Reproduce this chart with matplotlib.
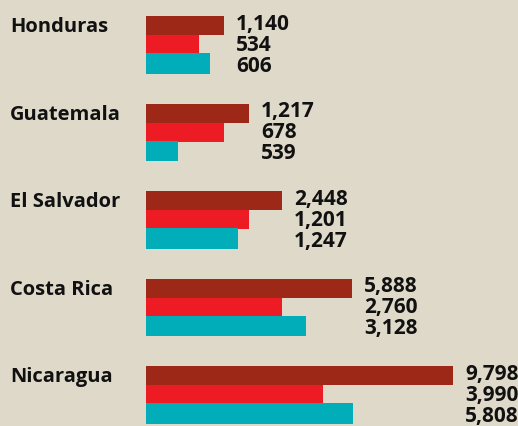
import matplotlib
matplotlib.use("Agg")
import matplotlib.pyplot as plt
from matplotlib.transforms import offset_copy

countries = ["Honduras", "Guatemala", "El Salvador", "Costa Rica", "Nicaragua"]
# printed values (three series per country)
series_a = [1140, 1217, 2448, 5888, 9798]
series_b = [534, 678, 1201, 2760, 3990]
series_c = [606, 539, 1247, 3128, 5808]
# bar lengths as drawn in the picture (same units, scaled so 9,798 matches)
bar_a = [2489, 3287, 4340, 6575, 9798]
bar_b = [1691, 2489, 3287, 4340, 5649]
bar_c = [2043, 1021, 2936, 5106, 6606]

colors = ["#9e2818", "#ed1c24", "#00adb9"]
bg = "#ded9c9"

W, H = 518, 427
fig = plt.figure(figsize=(W / 100, H / 100), dpi=100, facecolor=bg)
ax = fig.add_axes([0, 0, 1, 1])
ax.set_facecolor(bg)

left_px, full_px, full_val = 146, 307, 9798
scale = full_px / full_val
ax.set_xlim(-left_px / scale, (W - left_px) / scale)
ax.set_ylim(H, 0)
ax.axis("off")

y0, spacing, bar_h = 17, 87.5, 19
font = "Open Sans"
for i, name in enumerate(countries):
    top = y0 + i * spacing
    lens = [bar_a[i], bar_b[i], bar_c[i]]
    vals = [series_a[i], series_b[i], series_c[i]]
    for j in range(3):
        ax.barh(top + j * bar_h + bar_h / 2, lens[j], height=bar_h + (1.5 if j == 2 else 0),
                left=0, color=colors[j], align="center", linewidth=0)
    xmax = max(lens)
    tr = offset_copy(ax.transData, fig=fig, x=12 * 72 / 100, y=0, units="points")
    for j in range(3):
        ax.text(xmax, top + 7.5 + j * 21, f"{vals[j]:,}", transform=tr,
                ha="left", va="center", fontsize=15, fontweight="bold",
                family=font, color="#111111")
    ax.text(-left_px / scale + 10 / scale, top + 10.5, name, ha="left", va="center",
            fontsize=14.5, fontweight="bold", family=font, color="#111111")

fig.savefig("out.png", dpi=100, facecolor=bg)
